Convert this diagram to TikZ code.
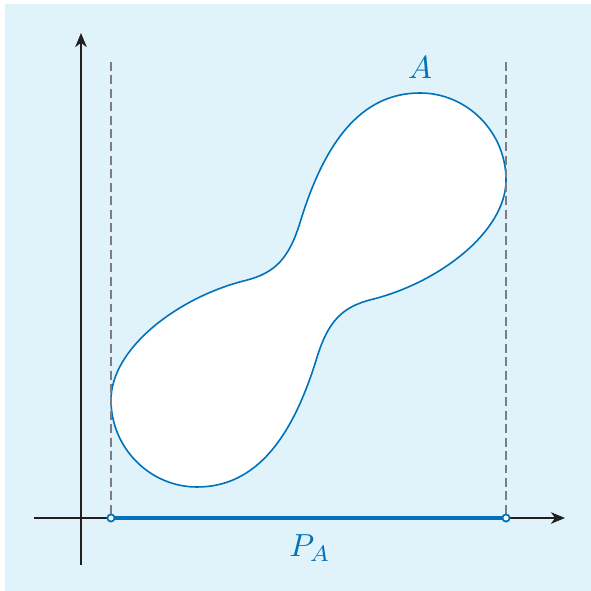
\documentclass[tikz,border=0pt]{standalone}
\usepackage{amsmath,amssymb}
\usepackage{xcolor}
\usepackage{tikz}
\usetikzlibrary{arrows.meta,positioning}

\definecolor{bgblue}{RGB}{224,243,251}
\definecolor{setblue}{RGB}{0,114,188}
\definecolor{axisgray}{RGB}{35,31,32}
\definecolor{guidegray}{RGB}{125,125,128}

\begin{document}
\begin{tikzpicture}[
    x=0.011cm, y=0.011cm,
    axis/.style={-{Stealth[length=4.4pt, width=3.6pt, inset=1.3pt]}, line width=0.6pt, color=axisgray},
    guide/.style={dashed, dash pattern=on 2.8pt off 1.4pt, line width=0.7pt, color=guidegray},
    blob/.style={draw=setblue, fill=white, line width=0.5pt},
    proj/.style={line width=1.1pt, color=setblue},
    dot/.style={circle, draw=setblue, fill=white, line width=0.5pt, inner sep=0pt, minimum size=2.2pt},
    lbl/.style={text=setblue, font=\normalsize}
  ]
    \useasboundingbox (0,0) rectangle (591,591);
    \fill[bgblue] (5,0) rectangle (591,587);
    % axes
    \coordinate (xs) at (34,73);
    \coordinate (xe) at (565,73);
    \coordinate (ys) at (81,26);
    \coordinate (ye) at (81,558);
    \draw[axis] (xs) -- (xe);
    \draw[axis] (ys) -- (ye);
    % the set A
    \draw[blob] (420,498)
      .. controls (467,498) and (506,459) .. (506,411)
      .. controls (506,359.4) and (439,308.3) .. (372,291.6)
      .. controls (341.7,284.1) and (327.9,269.4) .. (316.7,232.7)
      .. controls (293.1,155.5) and (257.3,104) .. (197,104)
      .. controls (150,104) and (111,143) .. (111,191)
      .. controls (111,242.6) and (178,293.7) .. (245,310.4)
      .. controls (275.3,317.9) and (289.1,332.6) .. (300.3,369.3)
      .. controls (323.9,446.5) and (359.7,498) .. (420,498) -- cycle;
    \node[lbl] (labA) at (420,523) {$A$};
    % projection
    \coordinate (gl) at (111,529);
    \coordinate (gr) at (506,529);
    \node[dot] (pl) at (111,73) {};
    \node[dot] (pr) at (506,73) {};
    \draw[guide] (gl) -- (pl);
    \draw[guide] (gr) -- (pr);
    \draw[proj] (pl) -- (pr);
    \node[dot] at (pl) {};
    \node[dot] at (pr) {};
    \node[lbl] (labP) at (310,43) {$P_A$};
  \end{tikzpicture}
\end{document}
